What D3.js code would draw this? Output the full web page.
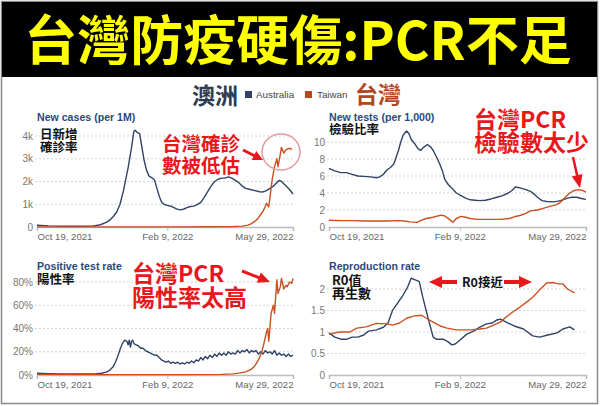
<!DOCTYPE html>
<html><head><meta charset="utf-8">
<script src="https://cdn.jsdelivr.net/npm/d3@7"></script>
<style>body{margin:0;background:#fff}svg{display:block}</style>
</head><body>
<svg id="c" width="600" height="406"></svg>
<script>
// ---------- DATA ----------
const titleText = "台灣防疫硬傷:PCR不足";
const countries = ["Australia", "Taiwan"];
const countryLabelsZh = ["澳洲", "台灣"];
const startDate = "2021-10-19";
const endDate = "2022-05-29";
const xTickDates = ["2021-10-19", "2022-02-09", "2022-05-29"];
const xTickLabels = ["Oct 19, 2021", "Feb 9, 2022", "May 29, 2022"];

// New cases per 1M (days since Oct 19, 2021)
const ausCasesDays = [0,10,20,30,40,48,55,60,63,66,69,72,75,77,79,81,82,84,85,87,89,91,93,95,97,100,102,104,106,108,110,113,117,121,124,127,130,133,136,139,142,145,148,151,154,157,160,163,166,169,172,175,178,181,185,189,193,196,199,202,205,208,210,212,214,216,219,222];
const ausCases = [80,50,35,30,30,40,100,200,300,450,650,1000,1600,2100,2600,3200,3500,4200,4250,4150,4100,3500,2900,2500,2250,2150,2050,1700,1350,1100,1000,950,900,800,750,780,850,900,920,980,1080,1300,1550,1800,2000,2100,2150,2150,2200,2150,2050,1950,1800,1700,1650,1600,1550,1540,1600,1700,1800,1950,2050,2000,1900,1800,1650,1450];
const twCasesDays = [0,60,120,150,170,178,183,186,189,192,194,196,198,199,201,203,204,206,208,209,211,212,214,216,218,220,221];
const twCases = [5,5,5,10,20,40,80,150,250,400,550,700,900,1050,880,1700,2100,2650,3000,2650,3200,3500,3250,3400,3450,3450,3400];

// New tests per 1,000
const ausTestsDays = [0,5,10,15,20,25,30,36,41,44,47,50,53,56,58,60,62,64,67,69,71,74,77,79,82,85,88,90,93,96,98,100,103,106,110,114,118,122,126,130,135,140,145,150,155,158,161,165,170,174,177,180,184,188,194,198,202,206,210,214,218,222];
const ausTests = [6.9,6.6,6.4,6.4,6.2,6.0,5.95,5.9,5.8,5.9,6.2,6.7,7.0,7.4,8.2,9.0,10.0,10.8,11.3,11.0,10.3,9.8,9.2,9.0,9.4,9.7,9.4,9.0,8.2,7.3,6.6,5.6,5.0,4.6,4.0,3.7,3.4,3.2,3.15,3.1,3.15,3.3,3.5,3.7,4.0,4.3,4.7,4.6,4.4,4.2,3.9,3.5,3.1,3.0,2.95,3.05,3.2,3.4,3.5,3.5,3.35,3.25];
const twTestsDays = [0,10,20,30,40,50,60,65,70,76,80,84,90,94,97,100,104,107,110,114,118,122,128,140,148,156,160,165,170,174,180,185,190,196,200,204,208,212,216,219,222];
const twTests = [0.8,0.75,0.75,0.7,0.7,0.7,0.75,0.7,0.6,0.55,0.8,1.0,1.15,1.3,1.4,1.3,0.9,0.55,1.0,1.25,1.15,1.0,0.9,0.9,0.9,1.0,1.2,1.35,1.6,1.9,2.0,2.2,2.4,2.6,2.9,3.5,4.0,4.3,4.4,4.3,4.1];

// Positive test rate (%)
const ausPosDays = [0,10,20,30,40,50,56,60,63,66,68,70,72,74,76,78,79,80,81,82,83,84,86,88,90,92,94,96,98,100,102,104,106,108,110,112,114,116,118,120,122,124,126,128,130,132,134,136,138,140,142,144,146,148,150,152,154,156,158,160,162,164,166,168,170,172,174,176,178,180,182,184,186,188,190,192,194,196,198,200,202,204,206,208,210,212,214,216,218,220,222];
const ausPos = [1.5,1.2,1.0,1.0,1.0,1.0,1.5,2.5,4,7,11,16,22,27,30,29,26,30,24,29,30,27,26,25,23,23,21,20,19,18,17,17,15,13,12,11,12,10,11,10,11,9.5,10.5,9.5,11,10,12,10.5,13,12,15,13,16,14,17,15,18,16,19,17,19,17,20,18,19,18,21,19,21,20,22,19,21,20,21,18,20,18,21,19,20,18,21,17,19,17,18,16,18,16,17];
const twPosDays = [0,60,120,160,170,176,180,183,186,189,192,195,197,199,200,201,203,205,206,208,209,211,212,214,216,217,219,221,222];
const twPos = [0.5,0.3,0.3,0.5,1,1.8,2.5,3.5,5,8,13,20,28,37,40,29,53,60,53,82,70,76,83,74,77,76,80,79,83];

// Reproduction rate
const ausRDays = [0,5,11,15,20,25,30,34,41,47,51,55,60,64,68,71,74,78,81,86,90,93,99,103,106,109,113,119,125,130,136,141,145,148,153,160,168,176,182,189,197,202,208,212];
const ausR = [0.98,0.88,0.83,0.83,0.88,0.88,0.93,1.02,1.05,1.11,1.21,1.51,1.70,1.86,2.05,2.25,2.22,2.17,1.81,1.28,0.88,0.83,0.83,0.77,0.70,0.72,0.81,0.95,1.02,1.11,1.19,1.21,1.28,1.30,1.23,1.14,1.07,0.91,0.88,0.93,0.98,1.07,1.12,1.05];
const twRDays = [0,9,18,24,32,41,50,55,61,67,73,80,84,90,96,102,110,122,130,136,142,148,153,159,165,171,176,182,188,194,198,202,206,212];
const twR = [0.95,1.0,1.0,1.09,1.12,1.2,1.19,1.16,1.21,1.32,1.37,1.39,1.32,1.23,1.14,1.09,1.05,1.05,1.07,1.09,1.16,1.23,1.35,1.47,1.58,1.70,1.81,1.98,2.14,2.15,2.12,2.12,2.0,1.91];

// Y axis ticks
const casesTicks = [0,1000,2000,3000,4000];
const casesTickLabels = ["0","1k","2k","3k","4k"];
const testsTicks = [0,2,4,6,8,10];
const testsTickLabels = ["0","2","4","6","8","10"];
const posTicks = [0,20,40,60,80];
const posTickLabels = ["0%","20%","40%","60%","80%"];
const rTicks = [0,0.5,1,1.5,2];
const rTickLabels = ["0","0.5","1","1.5","2"];

const panelTitles = ["New cases (per 1M)", "New tests (per 1,000)", "Positive test rate", "Reproduction rate"];

// ---------- DRAW ----------
const COL_AUS = "#2f4466", COL_TW = "#c9501f", RED = "#e8171b";
const svg = d3.select("#c");
const parse = d3.timeParse("%Y-%m-%d");
const d0 = parse(startDate), d1 = parse(endDate);
const toDate = d => d3.timeDay.offset(d0, d);

svg.append("rect").attr("x",0).attr("y",0).attr("width",600).attr("height",406).attr("fill","#fff");
svg.append("rect").attr("x",1.5).attr("y",1.5).attr("width",596).attr("height",402)
  .attr("fill","none").attr("stroke","#8a8a8a").attr("stroke-width",1.5);
svg.append("rect").attr("x",2).attr("y",2).attr("width",595).attr("height",75).attr("fill","#000");
svg.append("text").attr("x",298).attr("y",60).attr("text-anchor","middle")
  .attr("font-family","'Noto Sans CJK TC','Noto Sans CJK SC',sans-serif").attr("font-weight",700)
  .attr("font-size",53).attr("fill","#ffff00").text(titleText);

// legend
const cjk = "'Noto Sans CJK TC','Noto Sans CJK SC',sans-serif";
const lat = "'Liberation Sans',Arial,sans-serif";
svg.append("text").attr("x",192).attr("y",104).attr("font-family",cjk).attr("font-weight",700)
  .attr("font-size",23).attr("fill","#2e3d52").text(countryLabelsZh[0]);
svg.append("rect").attr("x",245).attr("y",91).attr("width",7).attr("height",7).attr("fill",COL_AUS);
svg.append("text").attr("x",256).attr("y",98).attr("font-family",lat).attr("font-size",9.8).attr("fill","#444").text(countries[0]);
svg.append("rect").attr("x",305).attr("y",91).attr("width",7).attr("height",7).attr("fill","#b9461d");
svg.append("text").attr("x",317).attr("y",98).attr("font-family",lat).attr("font-size",9.8).attr("fill","#444").text(countries[1]);
svg.append("text").attr("x",355).attr("y",103).attr("font-family",cjk).attr("font-weight",700)
  .attr("font-size",23).attr("fill","#b5461f").text(countryLabelsZh[1]);

function panel(cfg){
  const x = d3.scaleTime().domain([d0,d1]).range([cfg.x0,cfg.x1]);
  const y = d3.scaleLinear().domain([0,cfg.yMax]).range([cfg.yb,cfg.yt]);
  const g = svg.append("g");
  // gridlines
  g.selectAll(".gl").data(cfg.ticks.filter(v=>v>0)).join("line")
    .attr("x1",cfg.x0-2).attr("x2",cfg.x1).attr("y1",d=>y(d)).attr("y2",d=>y(d))
    .attr("stroke","#d4d4d4").attr("stroke-dasharray","2,2").attr("stroke-width",1);
  g.selectAll(".yl").data(cfg.ticks).join("text")
    .attr("x",cfg.x0-4).attr("y",d=>y(d)).attr("dy","0.35em").attr("text-anchor","end")
    .attr("font-family",lat).attr("font-size",10).attr("fill","#777")
    .text((d,i)=>cfg.tickLabels[i]);
  // x axis
  const ax = g.append("g").attr("transform",`translate(0,${cfg.yb})`)
    .call(d3.axisBottom(x).tickValues(xTickDates.map(parse)).tickFormat((d,i)=>xTickLabels[i])
      .tickSizeOuter(0).tickSize(4).tickPadding(2));
  ax.select(".domain").attr("stroke","#bbb").attr("stroke-width",1.5);
  ax.selectAll(".tick line").attr("stroke","#bbb");
  ax.selectAll(".tick text").attr("font-family",lat).attr("font-size",9.6).attr("fill","#666")
    .attr("text-anchor",(d,i)=> i===0?"start":(i===2?"end":"middle"));
  // lines
  const line = d3.line().x(d=>x(toDate(d[0]))).y(d=>y(d[1]));
  cfg.series.forEach(s=>{
    g.append("path").datum(s.days.map((d,i)=>[d,s.vals[i]]))
      .attr("d",line).attr("fill","none").attr("stroke",s.color).attr("stroke-width",1.4)
      .attr("stroke-linejoin","round");
  });
  // title
  g.append("text").attr("x",cfg.x0).attr("y",cfg.titleY).attr("font-family",lat).attr("font-weight",700)
    .attr("font-size",10.6).attr("fill","#2b4a7b").text(cfg.title);
}

panel({x0:37,x1:293,yb:227,yt:136,yMax:4000,ticks:casesTicks,tickLabels:casesTickLabels,title:panelTitles[0],titleY:121,
  series:[{days:ausCasesDays,vals:ausCases,color:COL_AUS},{days:twCasesDays,vals:twCases,color:COL_TW}]});
panel({x0:329,x1:586,yb:227,yt:142,yMax:10,ticks:testsTicks,tickLabels:testsTickLabels,title:panelTitles[1],titleY:121,
  series:[{days:ausTestsDays,vals:ausTests,color:COL_AUS},{days:twTestsDays,vals:twTests,color:COL_TW}]});
panel({x0:37,x1:293,yb:375,yt:282,yMax:80,ticks:posTicks,tickLabels:posTickLabels,title:panelTitles[2],titleY:270,
  series:[{days:ausPosDays,vals:ausPos,color:COL_AUS},{days:twPosDays,vals:twPos,color:COL_TW}]});
panel({x0:329,x1:586,yb:375,yt:289,yMax:2,ticks:rTicks,tickLabels:rTickLabels,title:panelTitles[3],titleY:270,
  series:[{days:ausRDays,vals:ausR,color:COL_AUS},{days:twRDays,vals:twR,color:COL_TW}]});

// annotations
function label(x,y,txt,size,color){
  svg.append("text").attr("x",x).attr("y",y).attr("font-family",cjk).attr("font-weight",700)
    .attr("font-size",size).attr("fill",color).text(txt);
}
label(40,139,"日新增",12.5,"#111"); label(40,152,"確診率",12.5,"#111");
label(329,134,"檢驗比率",12.5,"#111");
label(37,284,"陽性率",12.5,"#111");
label(332,285,"R0值",13,"#111"); label(332,298,"再生數",13,"#111");
label(462,287,"R0接近",12.5,"#111");

label(162,151,"台灣確診",19.5,RED); label(162,173,"數被低估",19.5,RED);
label(474,128,"台灣PCR",23,RED); label(474,151,"檢驗數太少",23,RED);
label(132,282,"台灣PCR",23,RED); label(132,306,"陽性率太高",23,RED);

function arrow(x1,y1,x2,y2,hl,hw,tw){
  const dx=x2-x1, dy=y2-y1, L=Math.hypot(dx,dy), ux=dx/L, uy=dy/L, nx=-uy, ny=ux;
  const bx=x2-ux*hl, by=y2-uy*hl;
  const pts=[[x1+nx*tw/2,y1+ny*tw/2],[bx+nx*tw/2,by+ny*tw/2],[bx+nx*hw/2,by+ny*hw/2],[x2,y2],
    [bx-nx*hw/2,by-ny*hw/2],[bx-nx*tw/2,by-ny*tw/2],[x1-nx*tw/2,y1-ny*tw/2]];
  svg.append("polygon").attr("points",pts.map(p=>p.join(",")).join(" ")).attr("fill",RED);
}
arrow(243,150,263,160,10,10,3);
arrow(573,157,580,188,13,11,2.5);
arrow(242,271,270,282,12,11,3);
arrow(457,282,429,282,13,12,4);
arrow(504,282,532,282,13,12,4);
svg.append("ellipse").attr("cx",281).attr("cy",152).attr("rx",19).attr("ry",18)
  .attr("fill","none").attr("stroke","#e69c9c").attr("stroke-width",1.5);
</script>
</body></html>
